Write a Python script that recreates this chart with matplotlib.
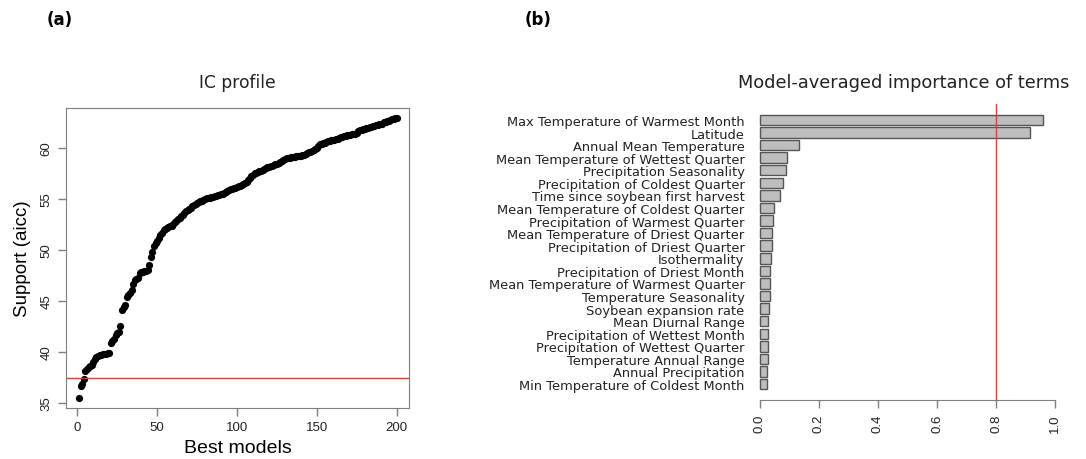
import matplotlib
matplotlib.use('Agg')
import matplotlib.pyplot as plt
import numpy as np

# (a) IC profile: support (aicc) of the 200 best models, in rank order
support = [
    35.5, 36.7, 36.9, 37.4, 38.1, 38.3, 38.5, 38.6, 38.7, 39.0,
    39.3, 39.5, 39.6, 39.7, 39.7, 39.8, 39.8, 39.8, 39.9, 39.9,
    40.9, 41.1, 41.3, 41.7, 41.9, 42.0, 42.5, 44.1, 44.4, 44.6,
    45.4, 45.6, 45.8, 46.1, 46.7, 47.1, 47.2, 47.3, 47.7, 47.8,
    47.8, 47.9, 47.9, 48.0, 48.5, 49.3, 49.8, 50.4, 50.7, 50.9,
    51.2, 51.5, 51.7, 52.0, 52.1, 52.2, 52.3, 52.4, 52.4, 52.5,
    52.7, 52.8, 53.0, 53.1, 53.3, 53.4, 53.6, 53.8, 53.9, 54.0,
    54.1, 54.3, 54.4, 54.5, 54.6, 54.7, 54.8, 54.8, 54.9, 55.0,
    55.1, 55.1, 55.1, 55.2, 55.2, 55.3, 55.3, 55.4, 55.4, 55.5,
    55.5, 55.6, 55.7, 55.8, 55.9, 56.0, 56.0, 56.1, 56.1, 56.2,
    56.3, 56.3, 56.4, 56.5, 56.6, 56.7, 56.9, 57.1, 57.3, 57.4,
    57.5, 57.5, 57.6, 57.7, 57.7, 57.8, 57.9, 58.0, 58.1, 58.1,
    58.2, 58.2, 58.3, 58.4, 58.4, 58.5, 58.6, 58.7, 58.8, 58.9,
    59.0, 59.0, 59.0, 59.1, 59.1, 59.1, 59.2, 59.2, 59.2, 59.2,
    59.3, 59.3, 59.4, 59.5, 59.6, 59.6, 59.7, 59.8, 59.9, 60.0,
    60.2, 60.4, 60.4, 60.5, 60.5, 60.6, 60.7, 60.7, 60.8, 60.8,
    60.8, 60.9, 60.9, 61.0, 61.1, 61.1, 61.2, 61.2, 61.3, 61.3,
    61.3, 61.4, 61.4, 61.4, 61.5, 61.7, 61.8, 61.8, 61.9, 61.9,
    62.0, 62.0, 62.1, 62.1, 62.2, 62.2, 62.3, 62.3, 62.4, 62.4,
    62.4, 62.5, 62.5, 62.6, 62.6, 62.7, 62.8, 62.8, 62.9, 62.9,
]
support_cutoff = 37.5

# (b) model-averaged importance of terms
terms = [
    "Max Temperature of Warmest Month", "Latitude", "Annual Mean Temperature",
    "Mean Temperature of Wettest Quarter", "Precipitation Seasonality",
    "Precipitation of Coldest Quarter", "Time since soybean first harvest",
    "Mean Temperature of Coldest Quarter", "Precipitation of Warmest Quarter",
    "Mean Temperature of Driest Quarter", "Precipitation of Driest Quarter",
    "Isothermality", "Precipitation of Driest Month",
    "Mean Temperature of Warmest Quarter", "Temperature Seasonality",
    "Soybean expansion rate", "Mean Diurnal Range",
    "Precipitation of Wettest Month", "Precipitation of Wettest Quarter",
    "Temperature Annual Range", "Annual Precipitation",
    "Min Temperature of Coldest Month",
]
importance = [0.958, 0.915, 0.132, 0.093, 0.089, 0.079, 0.070, 0.047, 0.044,
              0.041, 0.041, 0.038, 0.036, 0.034, 0.033, 0.031, 0.029, 0.029,
              0.028, 0.027, 0.025, 0.025]
importance_cutoff = 0.8

W, H = 1086, 460
fig = plt.figure(figsize=(W / 100, H / 100), dpi=100)

axis_grey = '#7f7f7f'
text_col = '#222222'
sans = ['Liberation Sans', 'DejaVu Sans']

# ---- panel (a) ----
ax1 = fig.add_axes([66 / W, (H - 409) / H, 343 / W, 300 / H])
models = np.arange(1, len(support) + 1)
ax1.plot(models, support, 'o', color='black', markersize=5.2, markeredgewidth=0)
ax1.axhline(support_cutoff, color='#ff3030', linewidth=1.0)
ax1.set_xlim(-7.1, 207.7)
ax1.set_ylim(34.51, 63.92)
ax1.set_xticks([0, 50, 100, 150, 200])
ax1.set_yticks([35, 40, 45, 50, 55, 60])
for s in ax1.spines.values():
    s.set_color(axis_grey)
ax1.tick_params(colors=axis_grey, length=6, width=1, labelcolor=text_col,
                labelsize=9.5)
for lab in ax1.get_xticklabels() + ax1.get_yticklabels():
    lab.set_family(sans)
for lab in ax1.get_yticklabels():
    lab.set_rotation(90)
    lab.set_va('center')
ax1.set_xlabel("Best models", fontsize=14, family=sans, labelpad=4)
ax1.set_ylabel("Support (aicc)", fontsize=13.5, family=sans, labelpad=7)
fig.text(237.5 / W, 1 - 83 / H, "IC profile", fontsize=12.3, color=text_col,
         ha='center', va='center')

# ---- panel (b) ----
ax2 = fig.add_axes([748 / W, (H - 401) / H, 319 / W, 296 / H])
pos = np.arange(len(terms))
ax2.barh(pos, importance, height=0.83, color='#bebebe', edgecolor='#555555',
         linewidth=1.0)
ax2.axvline(importance_cutoff, color='#ff3030', linewidth=1.0)
ax2.set_xlim(-0.04, 1.04)
ax2.set_ylim(len(terms) - 1 + 1.27, -1.27)
ax2.set_yticks(pos)
ax2.set_yticklabels(terms, fontsize=9.35, color=text_col)
ax2.tick_params(axis='y', left=False, pad=-1)
ax2.set_xticks([0.0, 0.2, 0.4, 0.6, 0.8, 1.0])
ax2.set_xticklabels(['0.0', '0.2', '0.4', '0.6', '0.8', '1.0'], rotation=90,
                    family=sans, fontsize=9.5, color=text_col)
ax2.tick_params(axis='x', colors=axis_grey, length=6, width=1,
                labelcolor=text_col)
for side in ['left', 'right', 'top']:
    ax2.spines[side].set_visible(False)
ax2.spines['bottom'].set_bounds(0, 1)
ax2.spines['bottom'].set_color(axis_grey)
fig.text(903.5 / W, 1 - 83 / H, "Model-averaged importance of terms",
         fontsize=12.8, color=text_col, ha='center', va='center')

fig.text(47 / W, 1 - 20 / H, "(a)", fontsize=12, fontweight='bold', va='center')
fig.text(525 / W, 1 - 20 / H, "(b)", fontsize=12, fontweight='bold', va='center')

fig.savefig('out.png', dpi=100)
